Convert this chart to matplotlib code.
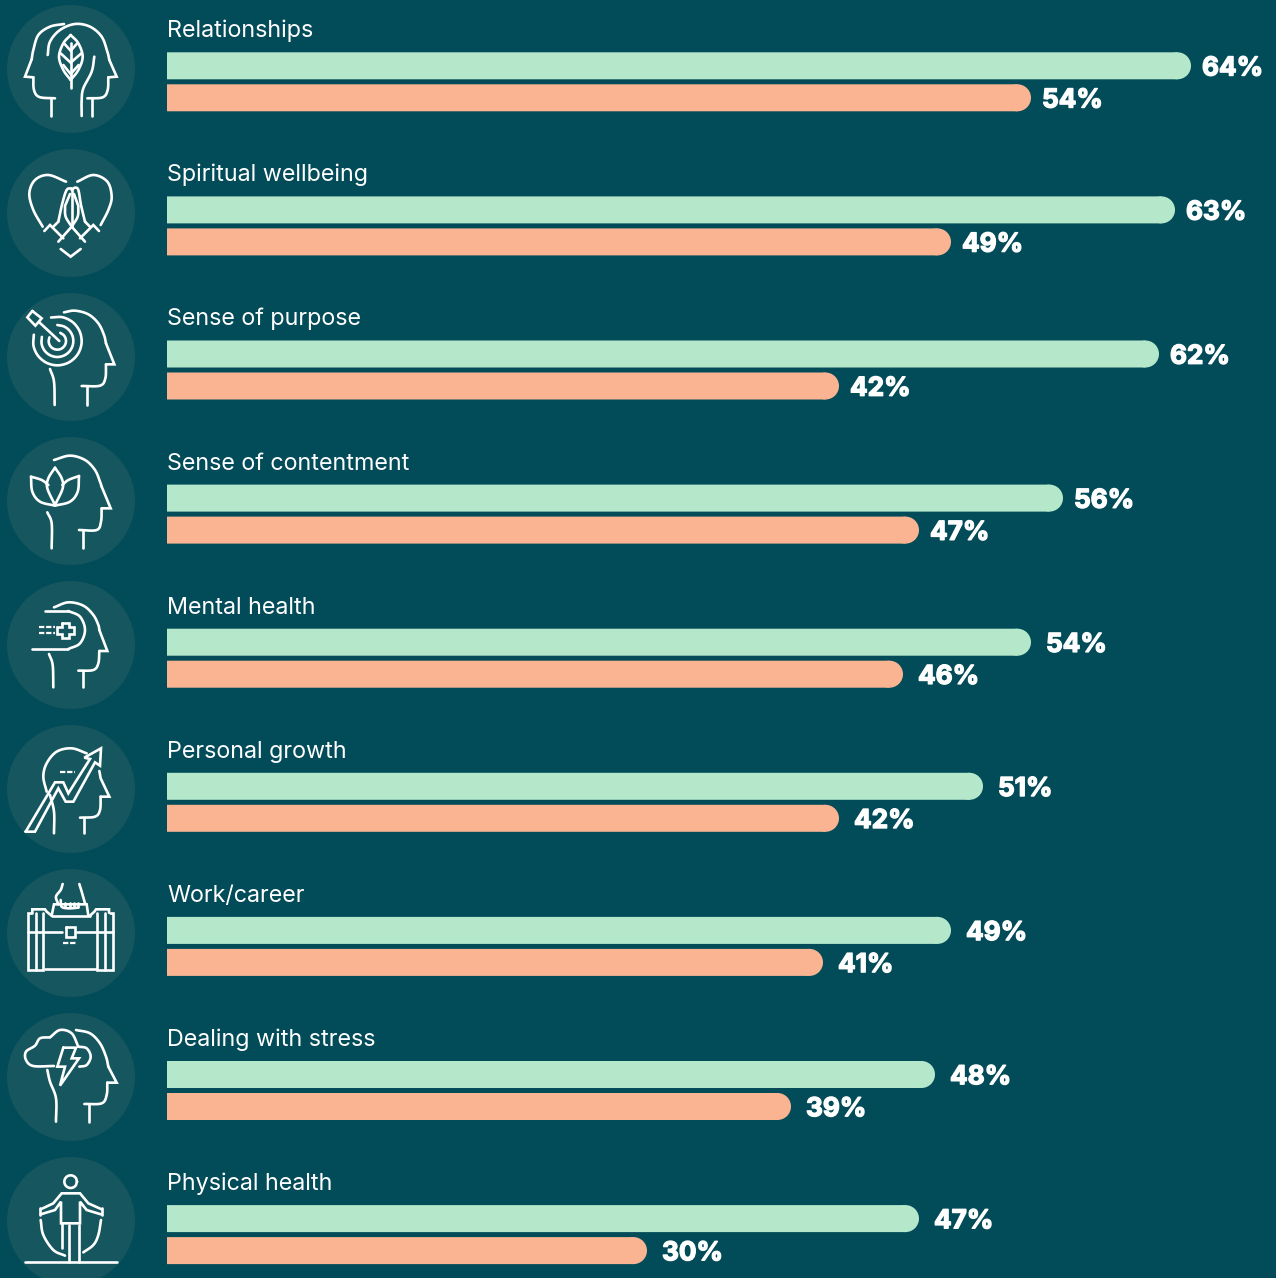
import numpy as np
import matplotlib
matplotlib.use('Agg')
import matplotlib.pyplot as plt
from matplotlib.patches import Circle, Ellipse
from matplotlib import patheffects as pe

categories = ['Relationships', 'Spiritual wellbeing', 'Sense of purpose', 'Sense of contentment',
              'Mental health', 'Personal growth', 'Work/career', 'Dealing with stress', 'Physical health']
green_vals = [64, 63, 62, 56, 54, 51, 49, 48, 47]
orange_vals = [54, 49, 42, 47, 46, 42, 41, 39, 30]

BG = '#024B58'
DISC = '#15565F'
GREEN = '#B5E8CB'
ORANGE = '#FBB492'
W, H = 1276, 1278

fig = plt.figure(figsize=(W / 100, H / 100), dpi=100, facecolor=BG)

# icon layer, plain pixel coords
ic = fig.add_axes([0, 0, 1, 1])
ic.set_xlim(0, W)
ic.set_ylim(H, 0)
ic.axis('off')

# bar layer: x is percent, 16px per percent, starts at 167px
ax = fig.add_axes([167 / W, 0, (W - 167) / W, 1])
ax.set_xlim(0, (W - 167) / 16)
ax.set_ylim(H, 0)
ax.axis('off')
ax.patch.set_alpha(0)

BAR_H = 27
r_x = BAR_H / 2 / 16
for i, cat in enumerate(categories):
    y0 = 65.8 + i * 144.1
    ax.text(0, y0 - 28.5, cat, color='white', fontsize=16.8, family='Inter', va='baseline')
    pad = 11 if i < 4 else 15
    for y, v, c in [(y0, green_vals[i], GREEN), (y0 + 32, orange_vals[i], ORANGE)]:
        bars = ax.barh(y, v - r_x, height=BAR_H, color=c, linewidth=0)
        bars[0].set_snap(False)
        ax.add_patch(Ellipse((v - r_x, y), 2 * r_x, BAR_H, color=c, linewidth=0))
        ax.text(v + pad / 16, y - 0.3, f'{v}%', color='white', fontsize=18.8, family='Inter', weight='bold',
                va='center_baseline', path_effects=[pe.withStroke(linewidth=1.0, foreground='white')])
    ic.add_patch(Circle((71, 69 + i * 144), 64, color=DISC, linewidth=0))


def smooth_pts(p, n=12):
    # catmull-rom through the points
    p = np.array(p, dtype=float)
    q = np.vstack([2 * p[0] - p[1], p, 2 * p[-1] - p[-2]])
    out = []
    for k in range(1, len(q) - 2):
        for t in np.linspace(0, 1, n, endpoint=False):
            out.append(0.5 * (2 * q[k] + (q[k + 1] - q[k - 1]) * t
                              + (2 * q[k - 1] - 5 * q[k] + 4 * q[k + 1] - q[k + 2]) * t ** 2
                              + (3 * q[k] - q[k - 1] - 3 * q[k + 1] + q[k + 2]) * t ** 3))
    out.append(p[-1])
    return np.array(out)


def icon(oy, curves=(), lines=(), dashes=()):
    def put(p, **kw):
        p = np.array(p, dtype=float)
        ic.plot(p[:, 0] / 3, p[:, 1] / 3 + oy, color='white', **kw)
    for c in curves:
        put(smooth_pts(c), lw=1.9, solid_capstyle='round')
    for c in lines:
        put(c, lw=1.9, solid_capstyle='round', solid_joinstyle='miter')
    for c in dashes:
        put(c, lw=1.6, linestyle=(0, (2.4, 0.8)), dash_capstyle='butt')


def arc(cx, cy, r, a0, a1):
    a = np.radians(np.linspace(a0, a1, 12))
    return list(zip(cx + r * np.cos(a), cy + r * np.sin(a)))


# relationships
icon(0, curves=[
    [(192, 72), (150, 80), (115, 105), (100, 150), (95, 178)],
    [(100, 232), (102, 270), (118, 291), (165, 295)],
    [(143, 165), (150, 125), (180, 90), (225, 72), (270, 80), (305, 110), (322, 155), (328, 180)],
    [(325, 232), (323, 270), (308, 292), (262, 295)],
    [(283, 170), (275, 215), (250, 265), (245, 300), (245, 348)],
    [(212, 105), (190, 130), (177, 170), (190, 210), (212, 240)],
    [(212, 105), (235, 130), (248, 170), (235, 210), (212, 240)],
], lines=[
    [(95, 178), (75, 230), (100, 232)], [(152, 295), (152, 348)],
    [(328, 180), (350, 230), (325, 232)], [(275, 295), (275, 348)],
    [(212, 130), (212, 265)],
    [(192, 130), (212, 152), (232, 130)], [(182, 160), (212, 188), (244, 160)], [(190, 195), (212, 222), (236, 195)],
])

# spiritual wellbeing
icon(0, curves=[
    [(128, 680), (100, 630), (88, 580), (105, 540), (145, 525), (198, 545)],
    [(232, 545), (280, 525), (322, 545), (335, 590), (325, 630), (302, 675)],
    [(175, 665), (187, 610), (200, 570), (215, 565)], [(255, 665), (243, 615), (235, 570), (225, 563), (215, 570)],
    [(195, 620), (197, 650), (215, 680)], [(235, 620), (233, 650), (215, 680)],
], lines=[
    [(215, 570), (215, 680)],
    [(195, 618), (210, 582)], [(235, 618), (222, 582)],
    [(133, 693), (150, 675), (190, 715)], [(297, 693), (280, 675), (240, 715)],
    [(175, 665), (160, 680)], [(255, 665), (270, 680)],
    [(175, 725), (215, 680), (255, 725)],
    [(182, 747), (212, 770), (242, 747)],
])

# sense of purpose
icon(285, curves=[
    [(192, 82), (225, 77), (265, 88), (295, 115), (312, 150), (318, 175)],
    [(318, 238), (316, 280), (300, 302), (245, 303)],
    [(150, 252), (162, 290), (164, 360)],
    arc(172, 168, 73, -105, 195), arc(172, 168, 48, -90, 195), arc(172, 168, 26, -70, 205),
], lines=[
    [(318, 175), (343, 238), (318, 238)], [(262, 303), (262, 360)],
    [(118, 112), (178, 168)],
    [(97, 78), (82, 97), (106, 122), (125, 100), (97, 78)],
])

# sense of contentment
icon(285, curves=[
    [(162, 525), (210, 512), (255, 525), (285, 555), (300, 590), (305, 605)],
    [(305, 670), (303, 710), (290, 735), (237, 735)],
    [(142, 682), (155, 715), (155, 790)],
    [(165, 548), (145, 580), (142, 610), (165, 660)], [(165, 548), (185, 580), (188, 610), (165, 660)],
    [(93, 575), (97, 620), (120, 650), (165, 662)], [(93, 575), (125, 585), (145, 600)],
    [(237, 573), (233, 620), (210, 650), (165, 662)], [(237, 573), (205, 585), (187, 600)],
], lines=[
    [(305, 605), (332, 670), (305, 670)], [(250, 735), (250, 790)],
])

# mental health
icon(575, curves=[
    [(162, 97), (205, 82), (250, 92), (280, 120), (295, 150), (298, 165)],
    [(298, 228), (295, 265), (280, 285), (235, 287)],
    [(147, 237), (158, 270), (160, 337)],
    [(205, 108), (240, 125), (255, 165), (240, 205), (205, 222)],
], lines=[
    [(298, 165), (322, 228), (298, 228)], [(248, 287), (248, 337)],
    [(135, 108), (205, 108)], [(205, 222), (97, 222)],
    [(187, 145), (207, 145), (207, 155), (222, 155), (222, 177), (207, 177), (207, 190),
     (187, 190), (187, 177), (172, 177), (172, 155), (187, 155), (187, 145)],
], dashes=[[(118, 157), (165, 157)], [(118, 175), (165, 175)]])

# personal growth
icon(575, curves=[
    [(260, 535), (215, 520), (170, 530), (140, 565), (130, 605), (140, 650)],
    [(302, 665), (300, 705), (285, 725), (240, 728)],
    [(150, 660), (162, 710), (162, 775)],
], lines=[
    [(298, 588), (302, 610), (328, 665), (302, 665)], [(253, 728), (253, 775)],
    [(77, 770), (165, 622), (190, 622), (205, 655), (270, 552), (253, 548), (303, 520), (300, 572),
     (285, 562), (220, 680), (197, 680), (175, 640), (105, 770), (77, 770)],
], dashes=[[(180, 590), (225, 590)]])

# work/career
icon(865, curves=[
    [(188, 57), (182, 75), (168, 95), (175, 118)], [(238, 57), (245, 80), (255, 115)],
    [(182, 105), (185, 125), (205, 130), (235, 128)],
], lines=[
    [(155, 152), (162, 118), (260, 118), (265, 152)],
    [(195, 115), (195, 127)], [(210, 115), (210, 127)], [(222, 115), (222, 127)], [(235, 115), (235, 127)],
    [(97, 145), (85, 145), (85, 315), (130, 315), (130, 145)], [(108, 145), (108, 315)],
    [(97, 143), (97, 133), (135, 133), (140, 140), (155, 152)], [(155, 152), (270, 152)],
    [(330, 145), (338, 145), (338, 315), (292, 315), (292, 145)], [(315, 145), (315, 315)],
    [(327, 143), (327, 133), (288, 133), (283, 140), (270, 152)],
    [(85, 200), (187, 200)], [(232, 200), (338, 200)], [(135, 312), (288, 312)],
    [(197, 185), (225, 185), (225, 215), (197, 215), (197, 185)],
], dashes=[[(190, 233), (232, 233)]])

# dealing with stress
icon(865, curves=[
    [(228, 495), (270, 505), (300, 535), (318, 575), (325, 605)],
    [(322, 653), (320, 690), (305, 715), (253, 717)],
    [(142, 615), (150, 650), (168, 700), (168, 770)],
    [(162, 603), (100, 603), (78, 585), (78, 560), (105, 542), (120, 520), (150, 517)],
    [(150, 517), (180, 495), (215, 505), (235, 545)],
    [(235, 545), (260, 550), (272, 575), (260, 600), (238, 605)],
], lines=[
    [(325, 605), (350, 653), (322, 653)], [(268, 717), (268, 770)],
    [(190, 548), (228, 548), (215, 580), (237, 580), (180, 662), (195, 605), (172, 605), (190, 548)],
])

# physical health
icon(865, curves=[
    arc(212, 950, 19, 0, 360),
    [(122, 1065), (130, 1110), (160, 1155), (195, 1172)],
    [(303, 1065), (295, 1110), (280, 1140), (250, 1162)],
], lines=[
    [(75, 1190), (350, 1190)],
    [(122, 1033), (160, 1015), (185, 985), (240, 985), (265, 1015), (305, 1033)],
    [(122, 1048), (165, 1035), (183, 1010), (183, 1075), (240, 1075), (240, 1010), (260, 1035), (303, 1048)],
    [(120, 1030), (120, 1050)], [(305, 1030), (305, 1050)],
    [(187, 1075), (187, 1150)], [(208, 1080), (208, 1190)], [(238, 1080), (238, 1190)],
])

fig.savefig('out.png', dpi=100, facecolor=BG)
